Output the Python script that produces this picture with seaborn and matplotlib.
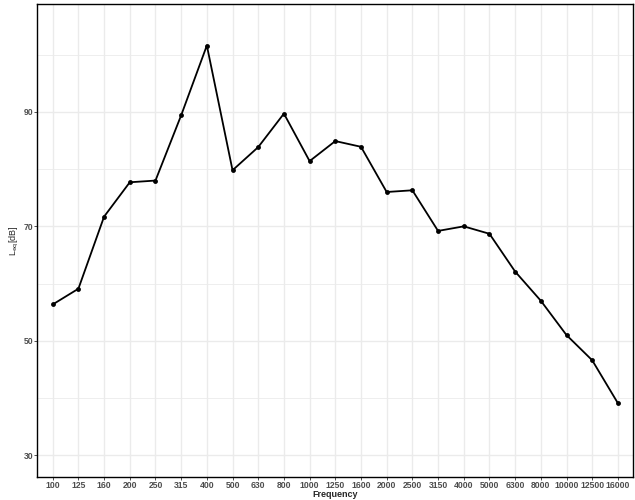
import matplotlib
matplotlib.use("Agg")
import matplotlib.pyplot as plt
import seaborn as sns
import pandas as pd

# 1/3オクターブ帯域の周波数とLeq
frequency = ["100", "125", "160", "200", "250", "315", "400", "500", "630", "800",
             "1000", "1250", "1600", "2000", "2500", "3150", "4000", "5000",
             "6300", "8000", "10000", "12500", "16000"]
leq = [56.35, 59.1, 71.7, 77.7, 78.0, 89.4, 101.6, 79.8, 83.85, 89.7,
       81.4, 84.9, 83.9, 76.0, 76.3, 69.2, 70.0, 68.7,
       62.1, 57.0, 51.0, 46.6, 39.1]

df = pd.DataFrame({"Frequency": frequency, "Leq": leq})
df["pos"] = range(len(df))

sns.set_theme(style="whitegrid")
plt.rcParams["font.family"] = ["Liberation Sans", "DejaVu Sans"]

fig = plt.figure(figsize=(6.35, 5.0), dpi=100)
ax = fig.add_axes([37.3 / 635, 1 - 477 / 500, (633.3 - 37.3) / 635, (477 - 4.3) / 500])

sns.lineplot(data=df, x="pos", y="Leq", ax=ax, color="black", linewidth=1.3,
             marker="o", markersize=3.5, markeredgewidth=0, zorder=3)

ax.set_xlim(-0.6, len(frequency) - 1 + 0.6)
ax.set_ylim(26.2, 108.8)
ax.set_xticks(df["pos"])
ax.set_xticklabels(frequency)
ax.set_yticks([30, 50, 70, 90])
ax.set_yticks([40, 60, 80, 100], minor=True)

ax.grid(which="major", color="#EBEBEB", linewidth=1.0)
ax.grid(which="minor", axis="y", color="#EBEBEB", linewidth=0.6)
ax.set_axisbelow(True)

for s in ax.spines.values():
    s.set_visible(True)
    s.set_color("black")
    s.set_linewidth(1.0)

ax.tick_params(axis="both", which="major", labelsize=6.2, labelcolor="#4D4D4D",
               color="#333333", length=2, width=0.6, pad=1, bottom=True, left=True)
ax.tick_params(axis="y", which="minor", length=0, left=False)
for lab in ax.get_xticklabels() + ax.get_yticklabels():
    lab.set_fontweight("bold")

ax.set_xlabel("Frequency", fontsize=6.5, fontweight="bold", labelpad=0)
ax.set_ylabel(r"L$_{\mathrm{eq}}$[dB]", fontsize=6.5, labelpad=1.5)

fig.savefig("out.png", dpi=100)
